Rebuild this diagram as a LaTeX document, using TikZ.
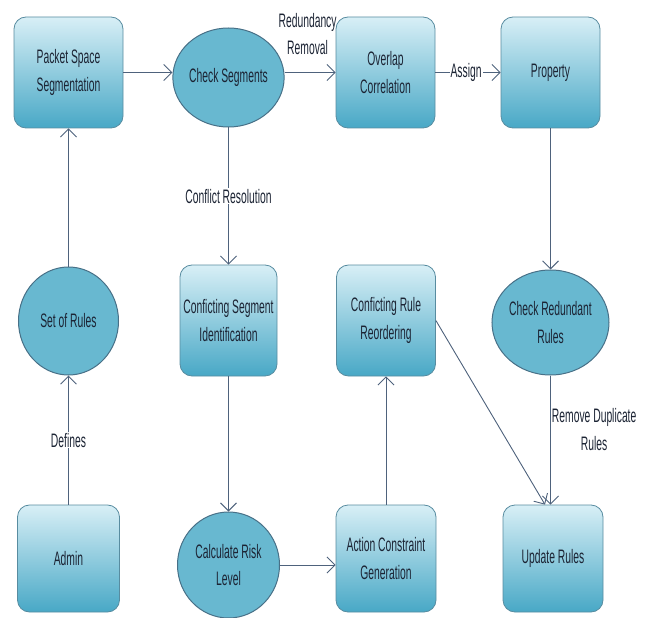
\documentclass[tikz,border=0pt]{standalone}
\usepackage{fontspec}
\setmainfont{Liberation Sans}[FakeStretch=0.53]
\usetikzlibrary{shapes.geometric,arrows.meta,calc}
\definecolor{boxtop}{RGB}{216,239,246}
\definecolor{boxbot}{RGB}{72,168,198}
\definecolor{boxline}{RGB}{88,140,160}
\definecolor{ellfill}{RGB}{104,184,208}
\definecolor{ellline}{RGB}{72,112,135}
\definecolor{edgecol}{RGB}{78,98,124}
\definecolor{txt}{RGB}{28,36,52}
\begin{document}
\begin{tikzpicture}[x=1pt,y=-1pt,
  every node/.style={font=\fontsize{19.5}{27.5}\selectfont, text=txt},
  boxnode/.style={rectangle, rounded corners=12pt, draw=boxline, line width=0.8pt,
    top color=boxtop, bottom color=boxbot, minimum width=100pt, minimum height=111pt,
    align=center, inner sep=2pt},
  ellnode/.style={ellipse, draw=ellline, line width=1pt, fill=ellfill,
    minimum width=101pt, minimum height=106pt, align=center, inner sep=0pt},
  arr/.style={draw=edgecol, line width=0.9pt, -{Straight Barb[length=8pt,width=16pt,line width=0.9pt]}},
  lbl/.style={fill=white, inner sep=1pt, align=center}
]
\useasboundingbox (0,0) rectangle (649,618);
% row 1
\node[boxnode, minimum width=109pt] (pss) at (68.5,72.5) {Packet Space\\Segmentation};
\node[ellnode, minimum width=100pt, minimum height=99pt] (cs) at (228.5,77.5) {Check Segments};
\node[boxnode, minimum width=99pt] (oc) at (385.5,72.5) {Overlap\\Correlation};
\node[boxnode, minimum width=99pt] (prop) at (550.5,72.5) {Property};
% row 2
\node[ellnode, minimum width=100pt, minimum height=108pt] (sor) at (68.5,321) {Set of Rules};
\node[boxnode, minimum width=97pt] (csi) at (228.5,320.5) {Conficting Segment\\Identification};
\node[boxnode, minimum width=99pt] (crr) at (386,320.5) {Conficting Rule\\Reordering};
\node[ellnode, minimum width=101pt, minimum height=105pt] (chr) at (550.5,322.5) {Check Redundant\\Rules};
% row 3
\node[boxnode, minimum width=102pt, minimum height=107pt] (admin) at (68.5,558.5) {Admin};
\node[ellnode, minimum width=102pt, minimum height=106pt] (crl) at (228.5,565) {Calculate Risk\\Level};
\node[boxnode, minimum width=100pt, minimum height=107pt] (acg) at (386,558.5) {Action Constraint\\Generation};
\node[boxnode, minimum width=100pt, minimum height=107pt] (ur) at (553,558.5) {Update Rules};
% connectors
\draw[arr] (admin) -- node[lbl]{Defines} (sor);
\draw[arr] (sor) -- (pss);
\draw[arr] (pss.east) -- (pss.east -| cs.west);
\draw[arr] (cs.east |- oc.west) -- node[pos=0.45, above=17pt, inner sep=0pt, align=center]{Redundancy\\Removal} (oc.west);
\draw[arr] (oc.east) -- node[lbl, pos=0.47]{Assign} (prop.west);
\draw[arr] (cs) -- node[lbl]{Conflict Resolution} (csi);
\draw[arr] (csi) -- (crl);
\draw[arr] (crl.east) -- (crl.east -| acg.west);
\draw[arr] (acg) -- (crr);
\coordinate (urin) at ($(ur.north)+(-8,0)$);
\draw[arr] (crr.east) -- (urin);
\draw[arr] (prop.south -| chr.north) -- (chr.north);
\draw[arr] (chr.south) -- node[right=0pt, inner sep=1pt, align=center, pos=0.42]{Remove Duplicate\\Rules} (chr.south |- ur.north);
\end{tikzpicture}
\end{document}
